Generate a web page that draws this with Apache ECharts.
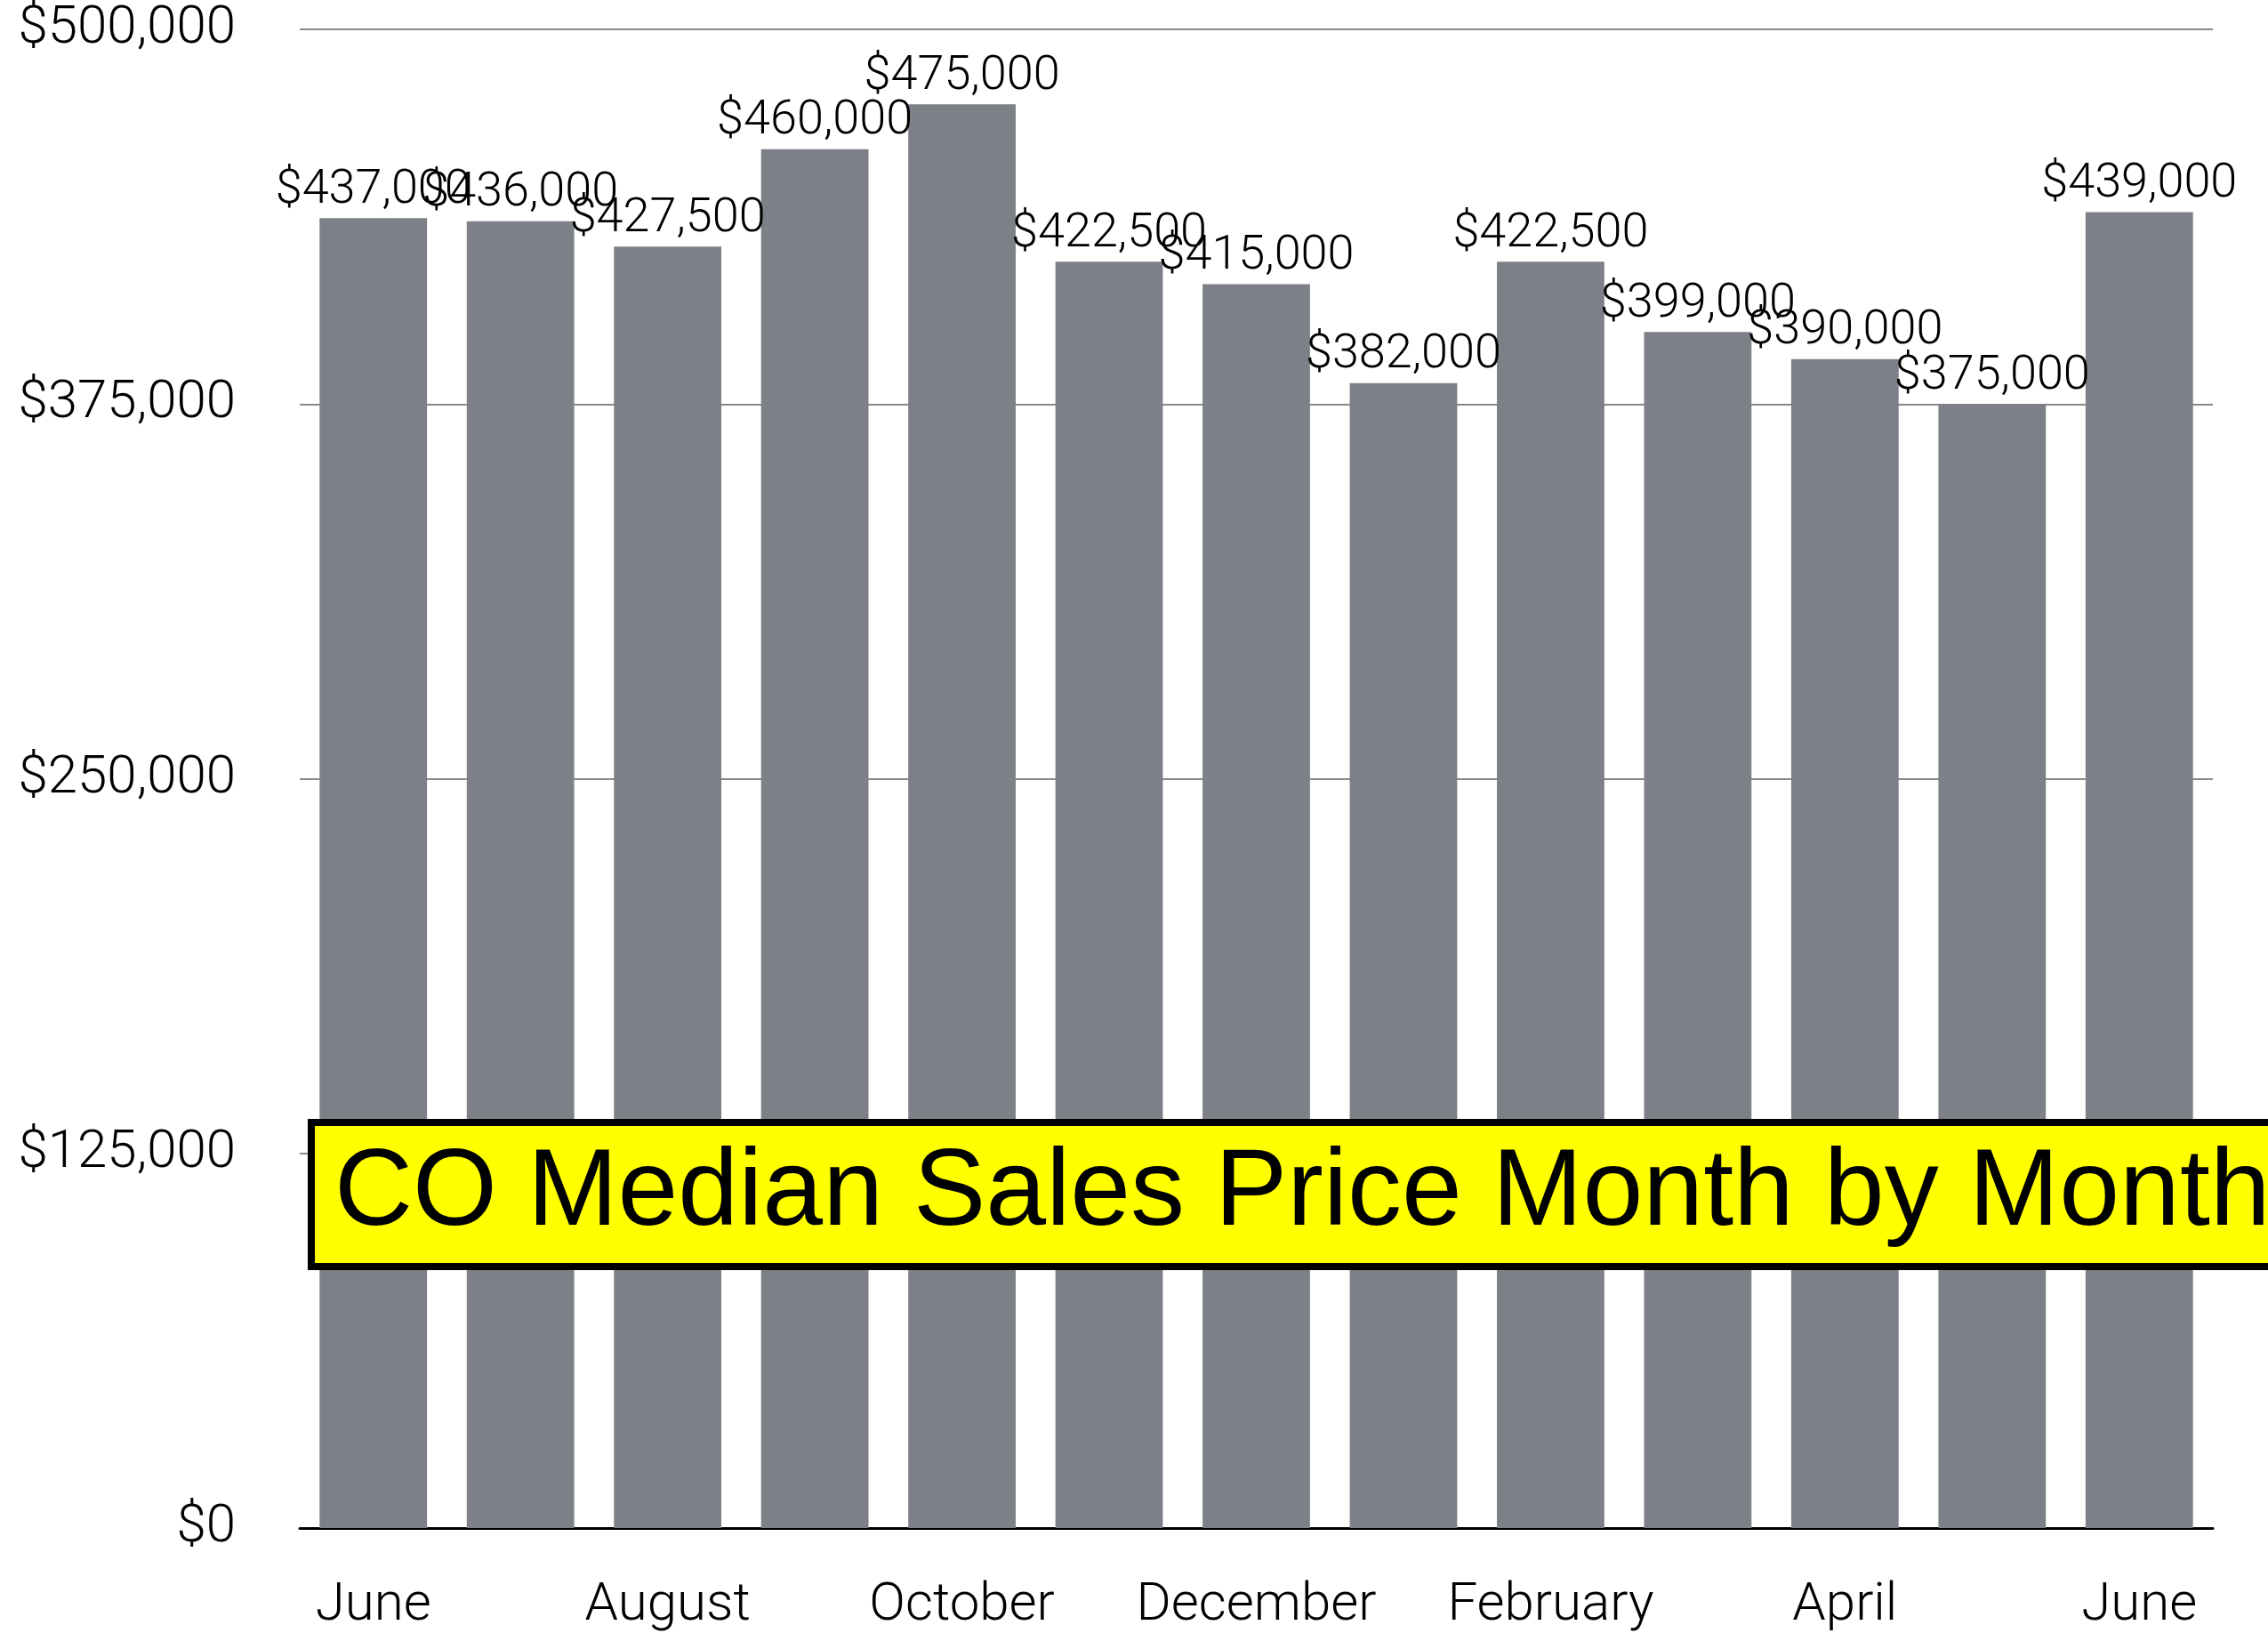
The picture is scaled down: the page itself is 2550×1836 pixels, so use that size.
<!DOCTYPE html>
<html>
<head>
<meta charset="utf-8">
<script src="https://cdn.jsdelivr.net/npm/echarts@6/dist/echarts.min.js"></script>
<style>
  html, body { margin: 0; padding: 0; background: #fff; }
  #chart { width: 2550px; height: 1836px; }
</style>
</head>
<body>
<div id="chart"></div>
<script>
// months, June to June
const months = ['June', 'July', 'August', 'September', 'October', 'November', 'December',
    'January', 'February', 'March', 'April', 'May', 'June'];

const medianPrice = [437000, 436000, 427500, 460000, 475000, 422500, 415000,
    382000, 422500, 399000, 390000, 375000, 439000];

const yTicks = [0, 125000, 250000, 375000, 500000];

const chartTitle = 'CO Median Sales Price Month by Month';

const money = v => '$' + Number(v).toLocaleString('en-US');

const chart = echarts.init(document.querySelector('#chart'));

const option = {
    animation: false,
    backgroundColor: '#ffffff',
    textStyle: { fontFamily: 'Roboto', fontWeight: 300 },
    title: {
        text: chartTitle,
        left: 350,
        top: 1262,
        backgroundColor: '#ffff00',
        borderColor: '#000000',
        borderWidth: 8,
        padding: [20, 80, 20, 26],
        textStyle: {
            fontFamily: 'Liberation Sans',
            fontWeight: 'normal',
            fontSize: 122,
            color: '#000'
        }
    },
    grid: {
        left: 337,
        right: 62,
        top: 33,
        bottom: 117,
        containLabel: false
    },
    xAxis: {
        type: 'category',
        data: months,
        axisLine: { lineStyle: { color: '#000', width: 3 } },
        axisTick: { show: false },
        axisLabel: {
            interval: 1,
            margin: 58,
            fontSize: 60,
            fontWeight: 300,
            color: '#000'
        }
    },
    yAxis: {
        type: 'value',
        min: yTicks[0],
        max: yTicks[yTicks.length - 1],
        interval: yTicks[1] - yTicks[0],
        axisLine: { show: false },
        axisTick: { show: false },
        splitLine: { lineStyle: { color: '#888', width: 2 } },
        axisLabel: {
            margin: 72,
            fontSize: 60,
            fontWeight: 300,
            color: '#000',
            padding: [12, 0, 0, 0],
            formatter: money
        }
    },
    series: [
        {
            type: 'bar',
            data: medianPrice,
            barCategoryGap: '27%',
            itemStyle: { color: '#7e8088' },
            label: {
                show: true,
                position: 'top',
                distance: 4,
                fontSize: 54,
                fontWeight: 300,
                color: '#000',
                formatter: p => money(p.value)
            }
        }
    ]
};

chart.setOption(option);
</script>
</body>
</html>
